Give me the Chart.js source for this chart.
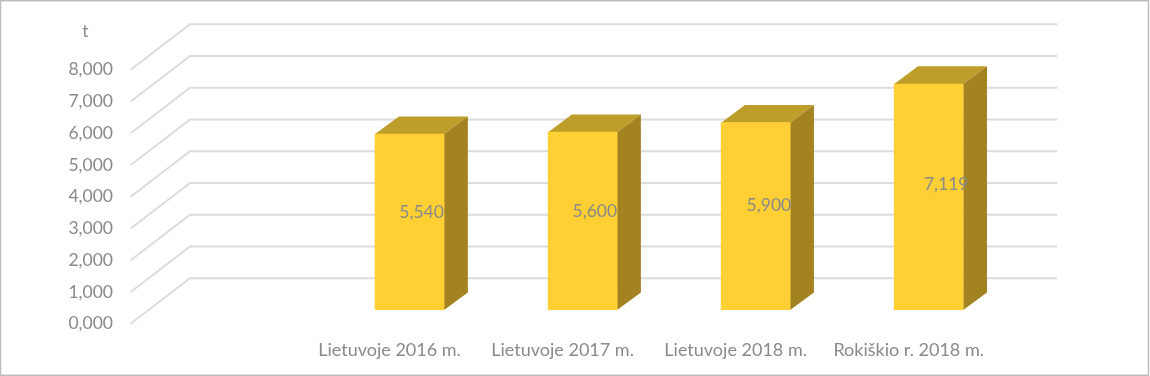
<!DOCTYPE html>
<html><head><meta charset="utf-8">
<script src="https://cdn.jsdelivr.net/npm/chart.js@4"></script>
<style>html,body{margin:0;padding:0;background:#fff}canvas{display:block}</style>
</head><body><canvas id="c" width="1150" height="376"></canvas>
<script>
const categories = ["", "Lietuvoje 2016 m.", "Lietuvoje 2017 m.", "Lietuvoje 2018 m.", "Rokiškio r. 2018 m."];
const values = [null, 5.54, 5.6, 5.9, 7.119];
const yUnit = "t";

const FONT = "Lato, 'Open Sans', sans-serif";
const TXT = "#8a8a8a";
const fmt = v => Number(v).toFixed(3).replace(".", ",");

const depthPlugin = {
  id: "depth",
  beforeDatasetsDraw(chart) {
    const { ctx, scales: { x, y } } = chart;
    const fx = 130.7, bx = 190, ex = 1057.3;
    ctx.save();
    ctx.strokeStyle = "#dcdcdc";
    ctx.lineWidth = 2;
    y.ticks.forEach(t => {
      const p = y.getPixelForValue(t.value);
      ctx.beginPath();
      ctx.moveTo(fx, p + 13.7);
      ctx.lineTo(bx, p - 31.7);
      ctx.lineTo(ex, p - 31.7);
      ctx.stroke();
    });
    const dx = 23.8, dy = 17.6;
    chart.getDatasetMeta(0).data.forEach((bar, i) => {
      if (values[i] == null) return;
      const l = bar.x - bar.width / 2, r = bar.x + bar.width / 2, t = bar.y, b = bar.base;
      ctx.fillStyle = "#be9e2a";
      ctx.beginPath();
      ctx.moveTo(l, t); ctx.lineTo(l + dx, t - dy); ctx.lineTo(r + dx, t - dy); ctx.lineTo(r, t);
      ctx.closePath(); ctx.fill();
      ctx.fillStyle = "#a38320";
      ctx.beginPath();
      ctx.moveTo(r, t); ctx.lineTo(r + dx, t - dy); ctx.lineTo(r + dx, b - dy); ctx.lineTo(r, b);
      ctx.closePath(); ctx.fill();
    });
    ctx.restore();
  },
  afterDatasetsDraw(chart) {
    const { ctx } = chart;
    ctx.save();
    ctx.font = "17.5px " + FONT;
    ctx.fillStyle = TXT;
    ctx.textAlign = "center";
    ctx.textBaseline = "middle";
    chart.getDatasetMeta(0).data.forEach((bar, i) => {
      if (values[i] == null) return;
      const extra = values[i] - 5.54;
      ctx.fillText(fmt(values[i]), bar.x + 12 + extra * 3.5, (bar.y + bar.base) / 2 - 10 - extra * 1.6);
    });
    ctx.fillText(yUnit, 85.5, 31.5);
    ctx.strokeStyle = "#bdbdbd";
    ctx.lineWidth = 1.5;
    ctx.strokeRect(0.5, 0.75, 1148, 374.5);
    ctx.restore();
  }
};

new Chart(document.getElementById("c"), {
  type: "bar",
  data: {
    labels: categories,
    datasets: [{ data: values, backgroundColor: "#ffcf33", barThickness: 69, borderWidth: 0 }]
  },
  options: {
    responsive: false,
    animation: false,
    layout: { padding: { left: 0, right: 134.8, top: 56, bottom: 0 } },
    plugins: { legend: { display: false }, tooltip: { enabled: false } },
    scales: {
      x: {
        afterFit: s => { s.height = 66; },
        grid: { display: false, drawTicks: false },
        border: { display: false },
        ticks: {
          autoSkip: false, maxRotation: 0, minRotation: 0, color: TXT, padding: 29.5,
          labelOffset: -20, font: { family: FONT, size: 18 }
        }
      },
      y: {
        min: 0, max: 8,
        afterFit: s => { s.width = 150; },
        grid: { display: false, drawTicks: false },
        border: { display: false },
        ticks: {
          stepSize: 1, color: TXT, padding: 37, labelOffset: 13.7,
          font: { family: FONT, size: 17.5 }, callback: v => fmt(v)
        }
      }
    }
  },
  plugins: [depthPlugin]
});
</script></body></html>
